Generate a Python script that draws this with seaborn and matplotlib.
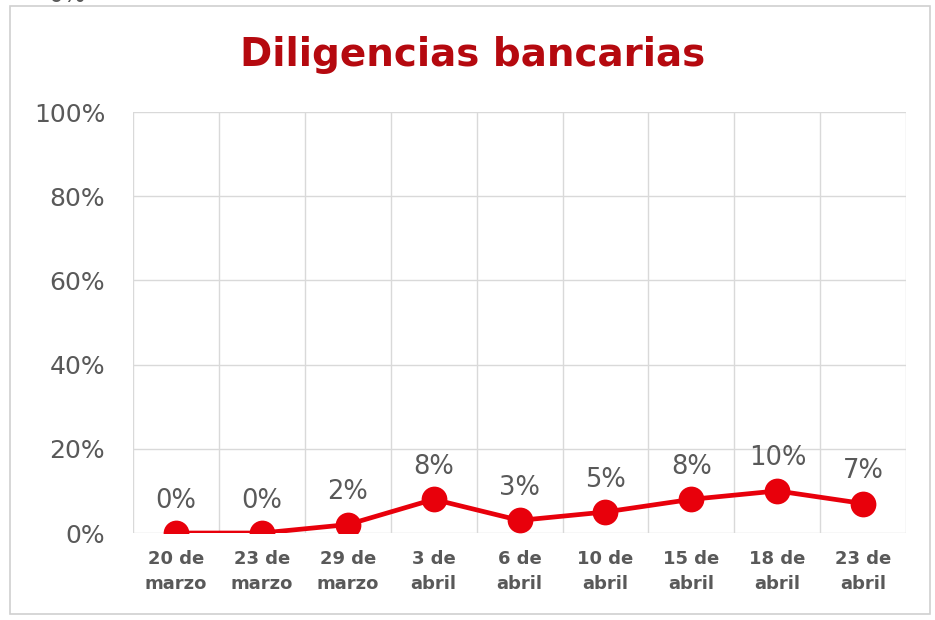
import matplotlib
matplotlib.use("Agg")
import matplotlib.pyplot as plt
import seaborn as sns
from matplotlib.patches import Rectangle
from matplotlib.ticker import FixedLocator, PercentFormatter

# ==========================================
# DATA
# ==========================================
fechas = ["20 de\nmarzo", "23 de\nmarzo", "29 de\nmarzo", "3 de\nabril", "6 de\nabril",
          "10 de\nabril", "15 de\nabril", "18 de\nabril", "23 de\nabril"]
valores = [0, 0, 2, 8, 3, 5, 8, 10, 7]
etiquetas = ["0%", "0%", "2%", "8%", "3%", "5%", "8%", "10%", "7%"]
y_ticks = [0, 20, 40, 60, 80, 100]

TITULO = "Diligencias bancarias"
ROJO = "#E8000B"
GRIS = "#595959"

# ==========================================
# FIGURE
# ==========================================
sns.set_style("white")
plt.rcParams["font.family"] = ["DejaVu Sans"]

fig = plt.figure(figsize=(9.35, 6.2), dpi=100)
ax = fig.add_axes([0.1422, 0.1403, 0.827, 0.679])

sns.pointplot(x=fechas, y=valores, order=fechas, color=ROJO,
              markersize=16, linewidth=3.4, ax=ax)

# grid: horizontal at ticks, vertical between categories
ax.set_ylim(0, 100)
ax.set_xlim(-0.5, len(fechas) - 0.5)
ax.set_yticks(y_ticks)
ax.yaxis.set_major_formatter(PercentFormatter(decimals=0))
ax.xaxis.set_minor_locator(FixedLocator([i - 0.5 for i in range(len(fechas) + 1)]))
ax.grid(axis="y", which="major", color="#D9D9D9", linewidth=1)
ax.grid(axis="x", which="minor", color="#D9D9D9", linewidth=1)
ax.grid(axis="x", which="major", visible=False)
ax.set_axisbelow(True)
for s in ax.spines.values():
    s.set_visible(False)
ax.tick_params(axis="both", which="both", length=0)
ax.tick_params(axis="y", labelsize=18, labelcolor=GRIS, pad=20)
ax.tick_params(axis="x", labelsize=13, labelcolor=GRIS, pad=12)
for lbl in ax.get_xticklabels():
    lbl.set_fontweight("bold")
    lbl.set_linespacing(1.55)
ax.set_xlabel("")
ax.set_ylabel("")

# data labels
for i, (v, t) in enumerate(zip(valores, etiquetas)):
    ax.annotate(t, (i, v), xytext=(0, 14), textcoords="offset points",
                ha="center", va="bottom", fontsize=18.5, color=GRIS)

fig.text(0.505, 0.911, TITULO, ha="center", va="center", fontsize=28,
         fontweight="bold", color="#B5090F")

# outer frame and clipped text from the chart above
fig.patches.append(Rectangle((10 / 935, 6 / 620), 920 / 935, 608 / 620,
                             transform=fig.transFigure, fill=False,
                             edgecolor="#D0D0D0", linewidth=1.2))
fig.text(0.072, 1.008, "0%", ha="center", va="center", fontsize=17, color=GRIS)

fig.savefig("out.png", dpi=100)
